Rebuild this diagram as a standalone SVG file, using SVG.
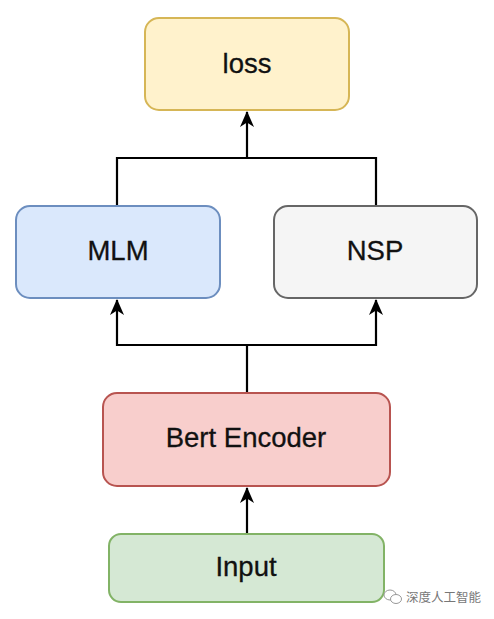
<svg xmlns="http://www.w3.org/2000/svg" width="494" height="619" viewBox="0 0 494 619">
<style>
.box{stroke-width:2}
.lbl{font-family:"Liberation Sans",Arial,sans-serif;font-size:27.5px;fill:#111;text-anchor:middle;stroke:#111;stroke-width:0.3}
.edge{fill:none;stroke:#000;stroke-width:2.2}
.wm{font-family:"Noto Sans CJK SC","Noto Sans",sans-serif;font-size:12.5px;fill:#777}
</style>
<defs>
<marker id="arr" viewBox="0 0 16 16" refX="15" refY="8" markerWidth="16" markerHeight="16" markerUnits="userSpaceOnUse" orient="auto">
<path d="M0,1 L16,8 L0,15 L4.5,8 Z" fill="#000"/>
</marker>
</defs>
<rect width="494" height="619" fill="#fff"/>
<g id="connectors">
<path class="edge" d="M117,205 V158 H376 V205 M247,158 V112" marker-end="url(#arr)"/>
<path class="edge" d="M247,392 V345 H117 V300" marker-end="url(#arr)"/>
<path class="edge" d="M247,345 H376 V300" marker-end="url(#arr)"/>
<path class="edge" d="M247,533 V488" marker-end="url(#arr)"/>
</g>
<g id="loss">
<rect class="box" x="145" y="18" width="204" height="92" rx="14" fill="#fff2cc" stroke="#d6b656"/>
<text class="lbl" x="247" y="73">loss</text>
</g>
<g id="mlm">
<rect class="box" x="16" y="206" width="204" height="92" rx="14" fill="#dae8fc" stroke="#6c8ebf"/>
<text class="lbl" x="118" y="260">MLM</text>
</g>
<g id="nsp">
<rect class="box" x="274" y="206" width="203" height="92" rx="14" fill="#f5f5f5" stroke="#666666"/>
<text class="lbl" x="375" y="260">NSP</text>
</g>
<g id="bert">
<rect class="box" x="103" y="393" width="287" height="93" rx="14" fill="#f8cecc" stroke="#b85450"/>
<text class="lbl" x="246" y="447">Bert Encoder</text>
</g>
<g id="input">
<rect class="box" x="109" y="534" width="275" height="68" rx="12" fill="#d5e8d4" stroke="#82b366"/>
<text class="lbl" x="246" y="576">Input</text>
</g>
<g id="watermark">
<ellipse cx="390" cy="595" rx="6" ry="5" fill="#fff" stroke="#999" stroke-width="1"/>
<ellipse cx="396" cy="599" rx="5.5" ry="4.5" fill="#fff" stroke="#999" stroke-width="1"/>
<text class="wm" x="406" y="602">深度人工智能</text>
</g>
</svg>
